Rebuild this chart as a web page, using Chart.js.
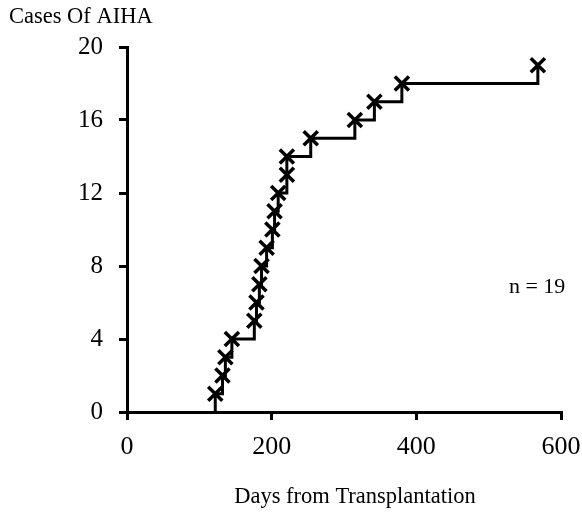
<!DOCTYPE html>
<html>
<head>
<meta charset="utf-8">
<script src="https://cdn.jsdelivr.net/npm/chart.js@4"></script>
<style>
    html, body { margin: 0; padding: 0; background: #fff; }
    #wrap { width: 582px; height: 512px; }
</style>
</head>
<body>
<div id="wrap"><canvas id="aihaChart" width="582" height="512"></canvas></div>
<script>
// Cumulative AIHA cases by day after transplantation
const days = [122, 132, 136, 145, 176, 179, 183, 186, 193, 201, 204, 209, 221, 221, 254, 315, 342, 380, 568];
const cases = [1, 2, 3, 4, 5, 6, 7, 8, 9, 10, 11, 12, 13, 14, 15, 16, 17, 18, 19];
const xTicks = [0, 200, 400, 600];
const yTicks = [0, 4, 8, 12, 16, 20];

const serif = "'Liberation Serif', 'Times New Roman', serif";

// step starts at the baseline under the first case
const points = [{ x: days[0], y: 0 }].concat(days.map((d, i) => ({ x: d, y: cases[i] })));
const radii = points.map((p, i) => i === 0 ? 0 : 10);

// axis titles sit a little off-centre in the original, so draw them by hand
const textPlugin = {
    id: 'extraText',
    afterDraw(chart) {
        const ctx = chart.ctx;
        const xs = chart.scales.x, ys = chart.scales.y;
        ctx.save();
        ctx.fillStyle = '#000';
        ctx.font = '22.5px ' + serif;
        ctx.textBaseline = 'alphabetic';
        ctx.textAlign = 'left';
        ctx.fillText('Cases Of AIHA', 9, 23);
        ctx.textAlign = 'center';
        ctx.textBaseline = 'middle';
        ctx.fillText('Days from Transplantation', 355, 497);
        ctx.font = '22px ' + serif;
        ctx.fillText('n = ' + cases.length, xs.getPixelForValue(567), ys.getPixelForValue(6.85));
        ctx.restore();
    }
};

new Chart(document.getElementById('aihaChart'), {
    type: 'line',
    data: {
        datasets: [{
            data: points,
            stepped: 'before',
            borderColor: '#000',
            borderWidth: 3,
            pointStyle: 'crossRot',
            pointRadius: radii,
            pointBorderColor: '#000',
            pointBorderWidth: 3.5,
            fill: false,
            clip: false
        }]
    },
    options: {
        responsive: false,
        animation: false,
        layout: { padding: { top: 47, right: 21, left: 0, bottom: 0 } },
        plugins: { legend: { display: false }, tooltip: { enabled: false } },
        scales: {
            x: {
                type: 'linear',
                min: 0, max: 600,
                afterBuildTicks: s => { s.ticks = xTicks.map(v => ({ value: v })); },
                afterFit: s => { s.height = 100; s.paddingLeft = 0; s.paddingRight = 0; },
                grid: { drawOnChartArea: false, drawTicks: true, tickLength: 8, color: '#000', lineWidth: 3 },
                border: { display: true, color: '#000', width: 3 },
                ticks: { color: '#000', font: { family: serif, size: 26 }, padding: 12, maxRotation: 0 }
            },
            y: {
                min: 0, max: 20,
                afterBuildTicks: s => { s.ticks = yTicks.map(v => ({ value: v })); },
                afterFit: s => { s.width = 127; s.paddingTop = 0; s.paddingBottom = 0; },
                grid: { drawOnChartArea: false, drawTicks: true, tickLength: 8, color: '#000', lineWidth: 3 },
                border: { display: true, color: '#000', width: 3 },
                ticks: { color: '#000', font: { family: serif, size: 25 }, padding: 16 }
            }
        }
    },
    plugins: [textPlugin]
});
</script>
</body>
</html>
